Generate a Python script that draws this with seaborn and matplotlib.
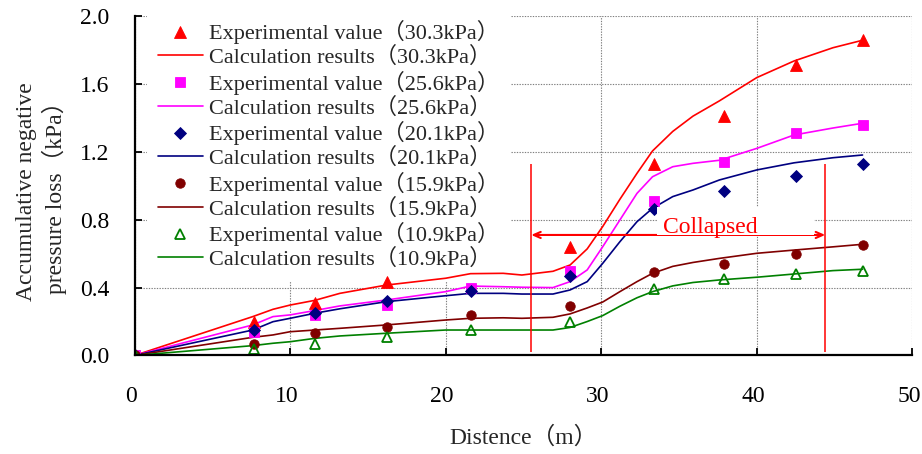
import numpy as np
import pandas as pd
import matplotlib
matplotlib.use("Agg")
import matplotlib.pyplot as plt
from matplotlib.patches import Rectangle
from matplotlib.transforms import ScaledTranslation
import seaborn as sns

# Suction levels, one series pair per level
pressures = ["30.3", "25.6", "20.1", "15.9", "10.9"]
colors = ["#FF0000", "#FF00FF", "#000080", "#800000", "#008000"]

# Measured accumulative negative pressure loss (kPa) along the pipe (m)
exp_distance = [0.0, 7.7, 11.6, 16.2, 21.6, 28.0, 33.4, 37.9, 42.5, 46.8]
exp_30_3 = [0.0, 0.20, 0.31, 0.43, np.nan, 0.64, 1.13, 1.41, 1.71, 1.86]
exp_25_6 = [0.0, 0.14, 0.24, 0.30, 0.40, 0.50, 0.91, 1.14, 1.31, 1.36]
exp_20_1 = [0.0, 0.15, 0.25, 0.32, 0.38, 0.47, 0.86, 0.97, 1.06, 1.13]
exp_15_9 = [0.0, 0.07, 0.13, 0.17, 0.24, 0.29, 0.49, 0.54, 0.60, 0.65]
exp_10_9 = [0.0, 0.04, 0.07, 0.11, 0.15, 0.20, 0.39, 0.45, 0.48, 0.50]

# Calculated curves
calc_distance = [0.0, 7.6, 8.9, 10.0, 11.6, 13.2, 16.2, 20.0, 21.6, 23.7, 24.9,
                 26.9, 28.0, 29.1, 30.1, 31.2, 32.3, 33.3, 34.6, 35.9, 37.6,
                 40.0, 42.4, 44.9, 46.8]
calc_30_3 = [0.0, 0.229, 0.272, 0.297, 0.325, 0.366, 0.415, 0.455, 0.482, 0.484,
             0.474, 0.496, 0.533, 0.628, 0.760, 0.920, 1.073, 1.205, 1.320,
             1.410, 1.500, 1.637, 1.735, 1.813, 1.857]
calc_25_6 = [0.0, 0.180, 0.229, 0.239, 0.265, 0.292, 0.327, 0.376, 0.409, 0.405,
             0.402, 0.400, 0.435, 0.504, 0.641, 0.798, 0.955, 1.053, 1.112,
             1.132, 1.150, 1.220, 1.299, 1.340, 1.368]
calc_20_1 = [0.0, 0.150, 0.199, 0.219, 0.249, 0.275, 0.317, 0.352, 0.366, 0.366,
             0.362, 0.362, 0.386, 0.435, 0.543, 0.670, 0.788, 0.867, 0.936,
             0.975, 1.034, 1.093, 1.135, 1.165, 1.181]
calc_15_9 = [0.0, 0.107, 0.121, 0.140, 0.150, 0.160, 0.180, 0.209, 0.219, 0.222,
             0.219, 0.225, 0.245, 0.280, 0.315, 0.376, 0.435, 0.484, 0.525,
             0.548, 0.572, 0.602, 0.621, 0.640, 0.655]
calc_10_9 = [0.0, 0.058, 0.072, 0.081, 0.101, 0.115, 0.131, 0.150, 0.150, 0.150,
             0.150, 0.150, 0.165, 0.200, 0.235, 0.290, 0.340, 0.376, 0.410,
             0.430, 0.445, 0.461, 0.480, 0.500, 0.508]

# Extent of the collapsed section (m)
collapse_start = 25.5
collapse_end = 44.4

exp_values = [exp_30_3, exp_25_6, exp_20_1, exp_15_9, exp_10_9]
calc_values = [calc_30_3, calc_25_6, calc_20_1, calc_15_9, calc_10_9]

exp_df = pd.concat(
    [pd.DataFrame({"distance": exp_distance, "loss": v, "pressure": p})
     for p, v in zip(pressures, exp_values)], ignore_index=True).dropna()
calc_df = pd.concat(
    [pd.DataFrame({"distance": calc_distance, "loss": v, "pressure": p})
     for p, v in zip(pressures, calc_values)], ignore_index=True)

sns.set_style("ticks")
plt.rcParams["font.family"] = ["Liberation Serif", "Noto Sans CJK SC"]
plt.rcParams["axes.unicode_minus"] = False

fig = plt.figure(figsize=(9.22, 4.54), dpi=100)
ax = fig.add_axes([0.1459, 0.2170, 0.8436, 0.7478])

marker_styles = [
    dict(marker="^", markersize=8.0, markerfacecolor="#FF0000"),
    dict(marker="s", markersize=6.5, markerfacecolor="#FF00FF"),
    dict(marker="D", markersize=6.0, markerfacecolor="#000080"),
    dict(marker="o", markersize=6.8, markerfacecolor="#800000"),
    dict(marker="^", markersize=7.6, markerfacecolor="none"),
]

order = []
for p, c, ms in zip(pressures, colors, marker_styles):
    exp_label = f"Experimental value（{p}kPa）"
    calc_label = f"Calculation results（{p}kPa）"
    sns.lineplot(data=calc_df[calc_df["pressure"] == p], x="distance", y="loss",
                 color=c, linewidth=1.2, estimator=None, sort=False,
                 label=calc_label, zorder=2, ax=ax)
    sns.lineplot(data=exp_df[exp_df["pressure"] == p], x="distance", y="loss",
                 color=c, linestyle="", markeredgecolor=c,
                 markeredgewidth=1.3 if ms["markerfacecolor"] == "none" else 0.6,
                 estimator=None, sort=False, label=exp_label, zorder=3, ax=ax,
                 **ms)
    order += [exp_label, calc_label]

# Axes, ticks and grid
ax.set_xlim(0, 50)
ax.set_ylim(0, 2.0)
ax.set_xticks(np.arange(0, 51, 10))
ax.set_yticks(np.arange(0, 2.01, 0.4))
ax.yaxis.set_major_formatter(matplotlib.ticker.FormatStrFormatter("%.1f"))
ax.grid(True, color="#7f7f7f", linestyle=(0, (1.2, 1.2)), linewidth=0.8)
ax.set_axisbelow(True)
for side in ("top", "right"):
    ax.spines[side].set_visible(False)
for side in ("left", "bottom"):
    ax.spines[side].set_color("black")
    ax.spines[side].set_linewidth(1.6)
    ax.spines[side].set_zorder(6)
ax.tick_params(axis="both", direction="in", length=5, width=1.3,
               colors="black", labelsize=17)
ax.tick_params(axis="x", pad=22)
ax.tick_params(axis="y", pad=18)
shift_left = ScaledTranslation(-2.5 / 72, 0, fig.dpi_scale_trans)
for lbl in ax.get_xticklabels():
    lbl.set_transform(lbl.get_transform() + shift_left)

ax.set_xlabel("Distence（m）", fontsize=17, labelpad=14)
ax.set_ylabel("Accumulative negative\npressure loss（kPa）", fontsize=17,
              labelpad=8, linespacing=1.25)
ax.yaxis.set_label_coords(-0.087, 0.482)

# Collapsed section markers
ax.vlines([collapse_start, collapse_end], 0.02, 1.13, colors="#FF0000",
          linewidth=1.1, zorder=4)
ax.annotate("", xy=(collapse_start, 0.71), xytext=(collapse_end, 0.71),
            arrowprops=dict(arrowstyle="<->,head_length=0.5,head_width=0.22",
                            color="#FF0000", lw=1.5, shrinkA=0, shrinkB=0),
            zorder=4)
box = Rectangle((33.6, 0.71), 10.1, 0.165, facecolor="white",
                edgecolor="none", zorder=4.5)
ax.add_patch(box)
txt = ax.text(33.97, 0.722, "Collapsed", color="#FF0000", fontsize=17,
              ha="left", va="baseline", zorder=5)
txt.set_clip_path(box)

# Legend: measured markers and calculated lines, paired by level
handles, labels = ax.get_legend_handles_labels()
lookup = dict(zip(labels, handles))
leg = ax.legend([lookup[l] for l in order], order, loc="upper left",
                bbox_to_anchor=(0.016, 1.02), borderaxespad=0, fontsize=16,
                frameon=True, fancybox=False, framealpha=1, facecolor="white",
                edgecolor="none", borderpad=0.5, labelspacing=0.12,
                handlelength=2.0, handletextpad=0.3)
leg.set_zorder(1)

fig.savefig("out.png", dpi=100)
